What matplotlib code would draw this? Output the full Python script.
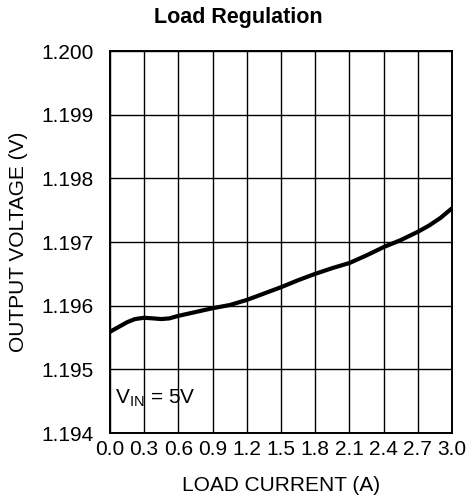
import numpy as np
import matplotlib
matplotlib.use("Agg")
import matplotlib.pyplot as plt

plt.rcParams['font.family'] = ['Liberation Sans', 'DejaVu Sans']
plt.rcParams['mathtext.fontset'] = 'custom'
plt.rcParams['mathtext.rm'] = 'Liberation Sans'

# load current (A) vs output voltage (V)
load_current = [0.0, 0.08, 0.15, 0.22, 0.3, 0.38, 0.45, 0.52, 0.6, 0.75, 0.9,
                1.05, 1.2, 1.35, 1.5, 1.65, 1.8, 1.95, 2.1, 2.25, 2.4, 2.55,
                2.7, 2.8, 2.9, 3.0]
output_voltage = [1.19559, 1.19567, 1.19574, 1.19579, 1.19581, 1.19580, 1.19579,
                  1.19580, 1.19584, 1.19590, 1.19596, 1.19601, 1.19609, 1.19619,
                  1.19629, 1.19640, 1.19650, 1.19659, 1.19667, 1.19679, 1.19692,
                  1.19703, 1.19716, 1.19726, 1.19738, 1.19753]

x_ticks = [0.0, 0.3, 0.6, 0.9, 1.2, 1.5, 1.8, 2.1, 2.4, 2.7, 3.0]
y_ticks = [1.194, 1.195, 1.196, 1.197, 1.198, 1.199, 1.200]

fig = plt.figure(figsize=(4.69, 5.01), dpi=100)
ax = fig.add_axes([0.2345, 0.1357, 0.7293, 0.7625])

ax.plot(load_current, output_voltage, color='black', linewidth=3,
        solid_capstyle='butt', solid_joinstyle='round')

ax.set_xlim(0, 3.0)
ax.set_ylim(1.194, 1.200)
ax.set_xticks(x_ticks)
ax.set_yticks(y_ticks)
ax.set_xticklabels(['%.1f' % v for v in x_ticks])
ax.set_yticklabels(['%.3f' % v for v in y_ticks])
ax.tick_params(axis='both', length=0, labelsize=15)
ax.tick_params(axis='y', pad=12)
ax.tick_params(axis='x', pad=5)
ax.grid(True, color='black', linewidth=1.0)
for s in ax.spines.values():
    s.set_linewidth(1.4)

ax.set_xlabel('LOAD CURRENT (A)', fontsize=15, labelpad=12)
ax.set_ylabel('OUTPUT VOLTAGE (V)', fontsize=15, labelpad=9)
fig.text(238 / 469, 1 - 18 / 501, 'Load Regulation', fontsize=15.5, fontweight='bold',
         ha='center', va='center')
ax.text(0.015, 0.09, r'V$_{\mathrm{IN}}$ = 5V', transform=ax.transAxes, fontsize=15,
        ha='left', va='center')

fig.savefig('out.png', dpi=100)
